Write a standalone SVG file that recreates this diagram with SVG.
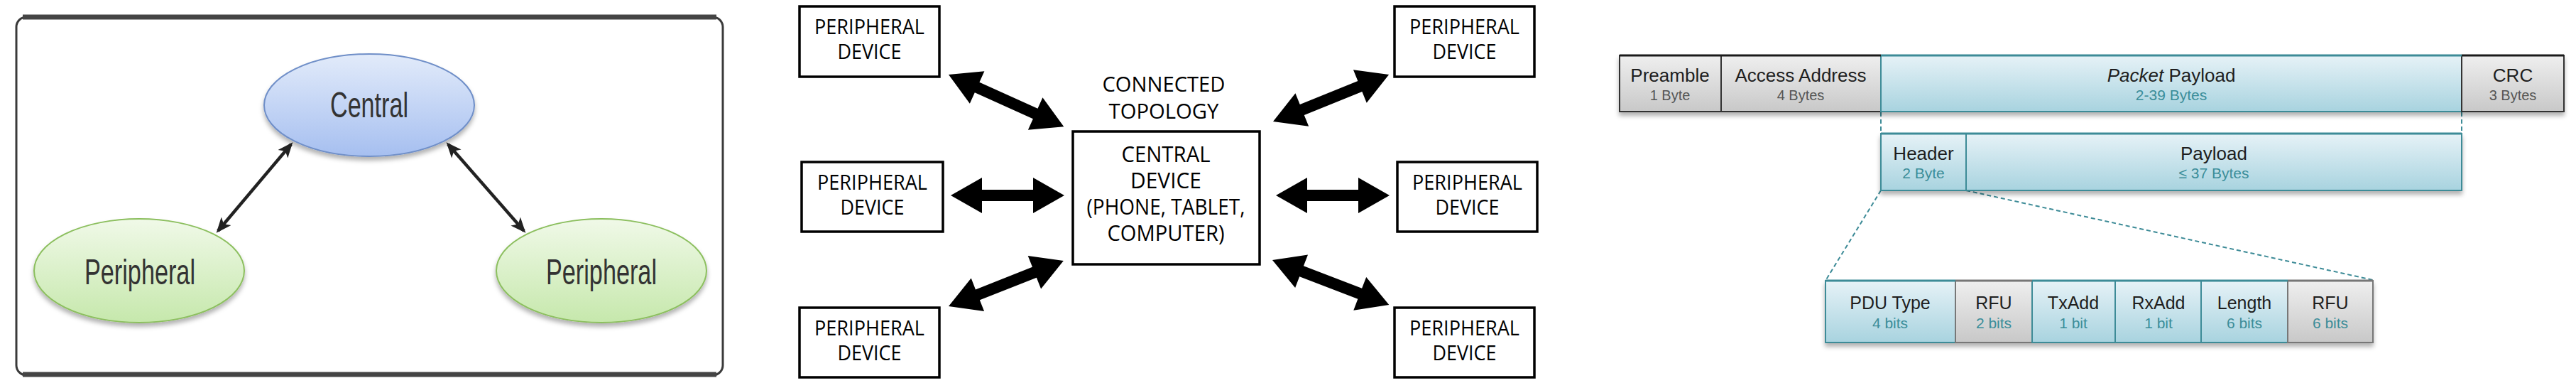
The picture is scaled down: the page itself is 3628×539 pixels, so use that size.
<svg xmlns="http://www.w3.org/2000/svg" width="3628" height="539" viewBox="0 0 3628 539">
<defs>
<style>
.p1t{font-family:"Liberation Sans",Arial,sans-serif;font-size:50px;fill:#333;text-anchor:middle}
.p2t{font-family:"Open Sans","Liberation Sans",sans-serif;font-size:29px;fill:#000;text-anchor:middle}
.p2c{font-family:"Open Sans","Liberation Sans",sans-serif;font-size:31px;fill:#000;text-anchor:middle}
.box{fill:#fff;stroke:#000;stroke-width:3.5}
.arr{fill:#000}
.lbl{font-family:"Liberation Sans",Arial,sans-serif;font-size:26px;fill:#1e1e1e;text-anchor:middle}
.sub{font-family:"Liberation Sans",Arial,sans-serif;font-size:20px;fill:#555;text-anchor:middle}
.subt{font-family:"Liberation Sans",Arial,sans-serif;font-size:21px;fill:#3b8d99;text-anchor:middle}
.lbl2{font-family:"Liberation Sans",Arial,sans-serif;font-size:25px;fill:#1e1e1e;text-anchor:middle}
.gc{fill:url(#gGray);stroke:#333;stroke-width:2}
.tc{fill:url(#gTeal);stroke:#3d8b97;stroke-width:2}
.gc2{fill:url(#gGray);stroke:#777;stroke-width:2}
.dash{fill:none;stroke:#3d8b97;stroke-width:2;stroke-dasharray:6 4}
.p1line{stroke:#222;stroke-width:4.5;fill:none;marker-start:url(#mh);marker-end:url(#mh)}
</style>
<linearGradient id="gBlue" x1="0" y1="0" x2="0" y2="1"><stop offset="0" stop-color="#e2ebfa"/><stop offset="1" stop-color="#a6bff0"/></linearGradient>
<linearGradient id="gGreen" x1="0" y1="0" x2="0" y2="1"><stop offset="0" stop-color="#f0f9e8"/><stop offset="1" stop-color="#c6e8ac"/></linearGradient>
<linearGradient id="gGray" x1="0" y1="0" x2="0" y2="1"><stop offset="0" stop-color="#efefef"/><stop offset="1" stop-color="#c8c8c8"/></linearGradient>
<linearGradient id="gTeal" x1="0" y1="0" x2="0" y2="1"><stop offset="0" stop-color="#e6f2f7"/><stop offset="1" stop-color="#a8d3df"/></linearGradient>
<filter id="sh" x="-10%" y="-10%" width="120%" height="140%"><feDropShadow dx="0" dy="5" stdDeviation="3" flood-color="#000" flood-opacity="0.3"/></filter>
<marker id="mh" viewBox="0 0 12 10" refX="10" refY="5" markerWidth="5" markerHeight="4" orient="auto-start-reverse" markerUnits="strokeWidth"><path d="M0,0 L12,5 L0,10 L3,5 Z" fill="#222"/></marker>
</defs>

<!-- Panel 1 -->
<g id="panel1-frame">
<rect x="23" y="24" width="995" height="504" rx="14" fill="#fff" stroke="#3a3a3a" stroke-width="3"/>
<path d="M32,24 H1009" stroke="#444" stroke-width="7"/>
<path d="M32,527 H1009" stroke="#444" stroke-width="7"/>
</g>
<g id="p1-connectors">
<line class="p1line" x1="307" y1="325" x2="410" y2="203"/>
<line class="p1line" x1="631" y1="203" x2="738" y2="325"/>
</g>
<g id="p1-central">
<ellipse cx="520" cy="148" rx="148" ry="72" fill="url(#gBlue)" stroke="#6f8fc8" stroke-width="2" filter="url(#sh)"/>
<text class="p1t" x="520" y="165" textLength="110" lengthAdjust="spacingAndGlyphs">Central</text>
</g>
<g id="p1-peripheral-left">
<ellipse cx="196" cy="381" rx="148" ry="73" fill="url(#gGreen)" stroke="#8cbf5e" stroke-width="2" filter="url(#sh)"/>
<text class="p1t" x="197" y="400" textLength="156" lengthAdjust="spacingAndGlyphs">Peripheral</text>
</g>
<g id="p1-peripheral-right">
<ellipse cx="847" cy="381" rx="148" ry="73" fill="url(#gGreen)" stroke="#8cbf5e" stroke-width="2" filter="url(#sh)"/>
<text class="p1t" x="847" y="400" textLength="156" lengthAdjust="spacingAndGlyphs">Peripheral</text>
</g>

<!-- Panel 2 -->
<g id="p2-connectors">
<polygon class="arr" transform="translate(1336,105) rotate(24.26)" points="0,0 44,-25 44,-8 134,-8 134,-25 178,0 134,25 134,8 44,8 44,25"/>
<polygon class="arr" transform="translate(1339,275)" points="0,0 44,-25 44,-8 116,-8 116,-25 160,0 116,25 116,8 44,8 44,25"/>
<polygon class="arr" transform="translate(1336,431) rotate(-21.56)" points="0,0 44,-25 44,-8 130,-8 130,-25 174,0 130,25 130,8 44,8 44,25"/>
<polygon class="arr" transform="translate(1793,171) rotate(-22.04)" points="0,0 44,-25 44,-8 132,-8 132,-25 176,0 132,25 132,8 44,8 44,25"/>
<polygon class="arr" transform="translate(1797,275)" points="0,0 44,-25 44,-8 116,-8 116,-25 160,0 116,25 116,8 44,8 44,25"/>
<polygon class="arr" transform="translate(1792,366) rotate(21.0)" points="0,0 44,-25 44,-8 132,-8 132,-25 176,0 132,25 132,8 44,8 44,25"/>
</g>
<g id="p2-topology-label">
<text class="p2t" x="1639" y="129" textLength="173" lengthAdjust="spacingAndGlyphs">CONNECTED</text>
<text class="p2t" x="1639" y="167" textLength="155" lengthAdjust="spacingAndGlyphs">TOPOLOGY</text>
</g>
<g id="p2-central">
<rect class="box" x="1511" y="185" width="263" height="187"/>
<text class="p2c" x="1642" y="228" textLength="125" lengthAdjust="spacingAndGlyphs">CENTRAL</text>
<text class="p2c" x="1642" y="265" textLength="100" lengthAdjust="spacingAndGlyphs">DEVICE</text>
<text class="p2c" x="1642" y="302" textLength="223" lengthAdjust="spacingAndGlyphs">(PHONE, TABLET,</text>
<text class="p2c" x="1642" y="339" textLength="165" lengthAdjust="spacingAndGlyphs">COMPUTER)</text>
</g>
<g id="p2-periph-tl">
<rect class="box" x="1126" y="9" width="197" height="99"/>
<text class="p2t" x="1224.5" y="48" textLength="155" lengthAdjust="spacingAndGlyphs">PERIPHERAL</text>
<text class="p2t" x="1224.5" y="83" textLength="90" lengthAdjust="spacingAndGlyphs">DEVICE</text>
</g>
<g id="p2-periph-ml">
<rect class="box" x="1129" y="228" width="199" height="98"/>
<text class="p2t" x="1228.5" y="267" textLength="155" lengthAdjust="spacingAndGlyphs">PERIPHERAL</text>
<text class="p2t" x="1228.5" y="302" textLength="90" lengthAdjust="spacingAndGlyphs">DEVICE</text>
</g>
<g id="p2-periph-bl">
<rect class="box" x="1126" y="433" width="197" height="98"/>
<text class="p2t" x="1224.5" y="472" textLength="155" lengthAdjust="spacingAndGlyphs">PERIPHERAL</text>
<text class="p2t" x="1224.5" y="507" textLength="90" lengthAdjust="spacingAndGlyphs">DEVICE</text>
</g>
<g id="p2-periph-tr">
<rect class="box" x="1964" y="9" width="197" height="99"/>
<text class="p2t" x="2062.5" y="48" textLength="155" lengthAdjust="spacingAndGlyphs">PERIPHERAL</text>
<text class="p2t" x="2062.5" y="83" textLength="90" lengthAdjust="spacingAndGlyphs">DEVICE</text>
</g>
<g id="p2-periph-mr">
<rect class="box" x="1968" y="228" width="197" height="98"/>
<text class="p2t" x="2066.5" y="267" textLength="155" lengthAdjust="spacingAndGlyphs">PERIPHERAL</text>
<text class="p2t" x="2066.5" y="302" textLength="90" lengthAdjust="spacingAndGlyphs">DEVICE</text>
</g>
<g id="p2-periph-br">
<rect class="box" x="1964" y="433" width="197" height="98"/>
<text class="p2t" x="2062.5" y="472" textLength="155" lengthAdjust="spacingAndGlyphs">PERIPHERAL</text>
<text class="p2t" x="2062.5" y="507" textLength="90" lengthAdjust="spacingAndGlyphs">DEVICE</text>
</g>

<!-- Panel 3 -->
<g id="p3-connectors">
<line class="dash" x1="2649" y1="158" x2="2649" y2="187"/>
<line class="dash" x1="3467" y1="158" x2="3467" y2="187"/>
<line class="dash" x1="2649" y1="268" x2="2571" y2="395"/>
<line class="dash" x1="2769" y1="268" x2="3342" y2="394"/>
</g>
<g id="p3-packet" filter="url(#sh)">
<rect class="gc" x="2281" y="78" width="143" height="79"/>
<rect class="gc" x="2424" y="78" width="225" height="79"/>
<rect class="tc" x="2649" y="78" width="818" height="79"/>
<rect class="gc" x="3467" y="78" width="144" height="79"/>
</g>
<g id="p3-packet-top">
<path d="M2281,78 H2649" stroke="#1a1a1a" stroke-width="3"/>
<path d="M2649,78 H3467" stroke="#3d8b97" stroke-width="3"/>
<path d="M3467,78 H3611" stroke="#1a1a1a" stroke-width="3"/>
</g>
<g id="p3-preamble">
<text class="lbl" x="2352" y="115">Preamble</text>
<text class="sub" x="2352" y="141">1 Byte</text>
</g>
<g id="p3-access">
<text class="lbl" x="2536" y="115">Access Address</text>
<text class="sub" x="2536" y="141">4 Bytes</text>
</g>
<g id="p3-packet-payload">
<text class="lbl" x="3058" y="115"><tspan font-style="italic">Packet</tspan> Payload</text>
<text class="subt" x="3058" y="141">2-39 Bytes</text>
</g>
<g id="p3-crc">
<text class="lbl" x="3539" y="115">CRC</text>
<text class="sub" x="3539" y="141">3 Bytes</text>
</g>
<g id="p3-pdu" filter="url(#sh)">
<rect class="tc" x="2649" y="188" width="120" height="80"/>
<rect class="tc" x="2769" y="188" width="698" height="80"/>
</g>
<path d="M2649,188 H3467" stroke="#3d8b97" stroke-width="3"/>
<g id="p3-header">
<text class="lbl" x="2709" y="225">Header</text>
<text class="subt" x="2709" y="251">2 Byte</text>
</g>
<g id="p3-payload">
<text class="lbl" x="3118" y="225">Payload</text>
<text class="subt" x="3118" y="251">≤ 37 Bytes</text>
</g>
<g id="p3-header-bits" filter="url(#sh)">
<rect class="tc" x="2571" y="395" width="183" height="87"/>
<rect class="gc2" x="2754" y="395" width="108" height="87"/>
<rect class="tc" x="2862" y="395" width="117" height="87"/>
<rect class="tc" x="2979" y="395" width="121" height="87"/>
<rect class="tc" x="3100" y="395" width="122" height="87"/>
<rect class="gc2" x="3222" y="395" width="120" height="87"/>
</g>
<g id="p3-bits-top">
<path d="M2571,395 H2754" stroke="#3d8b97" stroke-width="3"/>
<path d="M2754,395 H2862" stroke="#777" stroke-width="3"/>
<path d="M2862,395 H3222" stroke="#3d8b97" stroke-width="3"/>
<path d="M3222,395 H3342" stroke="#777" stroke-width="3"/>
</g>
<g id="p3-pdutype"><text class="lbl2" x="2662" y="435">PDU Type</text><text class="subt" x="2662" y="462">4 bits</text></g>
<g id="p3-rfu1"><text class="lbl2" x="2808" y="435">RFU</text><text class="subt" x="2808" y="462">2 bits</text></g>
<g id="p3-txadd"><text class="lbl2" x="2920" y="435">TxAdd</text><text class="subt" x="2920" y="462">1 bit</text></g>
<g id="p3-rxadd"><text class="lbl2" x="3040" y="435">RxAdd</text><text class="subt" x="3040" y="462">1 bit</text></g>
<g id="p3-length"><text class="lbl2" x="3161" y="435">Length</text><text class="subt" x="3161" y="462">6 bits</text></g>
<g id="p3-rfu2"><text class="lbl2" x="3282" y="435">RFU</text><text class="subt" x="3282" y="462">6 bits</text></g>
</svg>
